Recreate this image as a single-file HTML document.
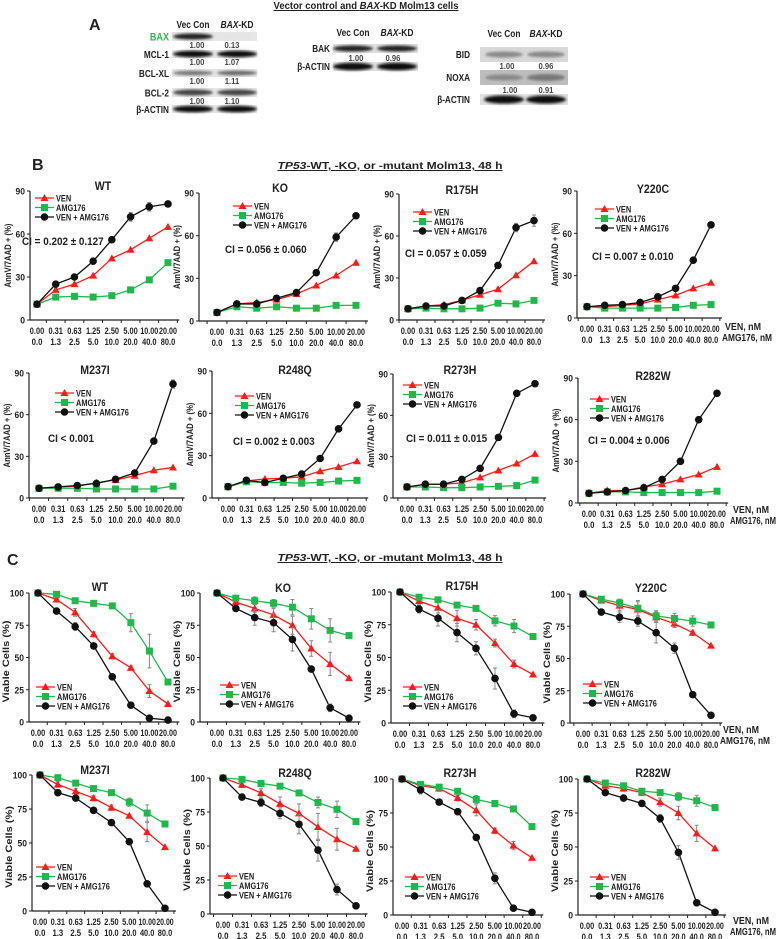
<!DOCTYPE html>
<html><head><meta charset="utf-8"><title>Vector control and BAX-KD Molm13 cells</title>
<style>
html,body{margin:0;padding:0;background:#fff;}
svg{display:block;font-family:"Liberation Sans",Arial,sans-serif;}
text{font-weight:bold;fill:#222;}
</style></head>
<body>
<svg id="fig" width="779" height="939" viewBox="0 0 779 939" xmlns="http://www.w3.org/2000/svg">
<defs><filter id="blur" x="-20%" y="-50%" width="140%" height="200%"><feGaussianBlur stdDeviation="1.2"/></filter></defs>
</svg>
<script>
// ---------- categories & ticks ----------
const venDoses = ["0.00","0.31","0.63","1.25","2.50","5.00","10.00","20.00"];
const amgDoses = ["0.0","1.3","2.5","5.0","10.0","20.0","40.0","80.0"];
const yTicksB = [0,30,60,90];
const yTicksC = [0,25,50,75,100];
const seriesNames = ["VEN","AMG176","VEN + AMG176"];

// ---------- Panel B data (AnnV/7AAD + %) ----------
const bWT_ven = [11,21,25,31,43,49,57,65];
const bWT_amg = [11,16,16.5,16,17,21,28,40];
const bWT_combo = [11,25,30,41,56,72,79,81];
const bKO_ven = [6,12,13,15,19,25,32,41];
const bKO_amg = [6,10,9,10,9,9,11,11];
const bKO_combo = [6,12,12,16,20,34,59,74];
const bR175H_ven = [8,10,11,14,18,22,32,42];
const bR175H_amg = [8,8.5,8,8,8.5,12,11.5,14];
const bR175H_combo = [8,10,10,14,21,39,66,71];
const bY220C_ven = [8,8,9,10,13,16,21,25];
const bY220C_amg = [8,7,7,7,7,7.5,9,9.5];
const bY220C_combo = [8,9,9.5,11,15,21,41,66];
const bM237I_ven = [7,8,8.5,11,13,16,20,22];
const bM237I_amg = [7,7,7,6.5,6.5,6.5,6.5,8.5];
const bM237I_combo = [7,8,9,10.5,13.5,18,41,82];
const bR248Q_ven = [8,12,13.5,14,15,19,22,26];
const bR248Q_amg = [8,11.5,11,11,10.5,11,12,12.5];
const bR248Q_combo = [8,12.5,11,14,17,28,49,66];
const bR273H_ven = [8,10,10,11,15,20,25,32];
const bR273H_amg = [8,8,7.5,7.5,8,8.5,9,13];
const bR273H_combo = [8,10,10,13.5,21.5,44,76,83];
const bR282W_ven = [7,9,9,11.5,13.5,17,20.5,26];
const bR282W_amg = [7,8,8,7.5,7.5,7.5,7.5,8.5];
const bR282W_combo = [7,8,9,11,17,30,60,79];

// ---------- Panel C data (Viable cells %) ----------
const cWT_ven = [100,95,85,68,51,42,24,14];
const cWT_amg = [100,99,94,92,90,77,55,31];
const cWT_combo = [100,86,74,59,35,13,3,1.5];
const cKO_ven = [100,93,88,83,75,57,45,34];
const cKO_amg = [100,96,94,92,89,80,71,67];
const cKO_combo = [100,88,81,77,64,41,11,3];
const cR175H_ven = [100,93,88,80,75,61,45,37];
const cR175H_amg = [100,96,94,90,87.5,78,74,66];
const cR175H_combo = [100,87,80,69,57,34,7,4];
const cY220C_ven = [100,95,91,88,82,77,70,60];
const cY220C_amg = [100,96,93,89,83,81,79,76];
const cY220C_combo = [100,86,82,79,70,58,22,6];
const cM237I_ven = [100,93,88,83,76,70,58,47];
const cM237I_amg = [100,98,94,90,87,80,72,64];
const cM237I_combo = [100,87,83,74,65,51,20,2];
const cR248Q_ven = [100,95,89,81,74,64,55,48];
const cR248Q_amg = [100,99,96,94,89,82,77,68];
const cR248Q_combo = [100,86,82,74,66,47,18,6];
const cR273H_ven = [100,95,93,86,77,62,51,42];
const cR273H_amg = [100,96,94,91,85,82,78,65];
const cR273H_combo = [100,92,83,76,57,27,5,2];
const cR282W_ven = [100,95,93,90,83,75,60,49];
const cR282W_amg = [100,97,95,91,90,87,84,79];
const cR282W_combo = [100,90,86,82,71,46,9,2];

// error bars (C panels)
const cWT_errV=[0,1,3,2,2,1.5,5,0], cWT_errA=[0,1,1,1,1,7,13,0], cWT_errC=[0,1,3,1,0,0,0,0];
const cKO_errV=[0,2,3,5,7,6,9,0], cKO_errA=[0,2,3,3,6,8,9,0], cKO_errC=[0,2,6,7,9,0,3,0];
const cR175H_errV=[0,2,4,6,4,3,3,0], cR175H_errA=[0,1,1,1,1,4,5,0], cR175H_errC=[0,3,6,7,5,8,3,0];
const cY220C_errV=[0,2,4,6,4,3,2,0], cY220C_errA=[0,1,3,6,4,4,4,0], cY220C_errC=[0,2,4,4,8,4,2,0];
const cM237I_errV=[0,2,2,2,2,1,7,0], cM237I_errA=[0,1,1,1,2,3,6,0], cM237I_errC=[0,2,1,2,1,1,1,0];
const cR248Q_errV=[0,2,3,5,7,10,8,0], cR248Q_errA=[0,1,2,2,1,4,6,0], cR248Q_errC=[0,2,3,4,7,8,4,0];
const cR273H_errV=[0,1,2,2,4,2,3,0], cR273H_errA=[0,1,1,2,3,2,1,0], cR273H_errC=[0,3,2,1,2,4,0,0];
const cR282W_errV=[0,1,2,2,3,5,6,0], cR282W_errA=[0,1,1,2,2,3,4,0], cR282W_errC=[0,1,1,1,3,5,1,0];
const bErr = {bWT:[0,1,1,1,2,3,3,1], bKO:[0,1,1,1,1,1,3,1], bR175H:[0,1,1,1,1,2,3,4], bY220C:[0,0,0,0,1,1,2,1], bM237I:[0,0,0,0,0,1,1,3], bR248Q:[0,0,0,1,1,1,2,1], bR273H:[0,0,0,0,1,1,2,1], bR282W:[0,0,0,0,1,1,1,1]};

const NS="http://www.w3.org/2000/svg";
const svg=document.getElementById('fig');
function mk(tag,attrs,parent){const e=document.createElementNS(NS,tag);for(const k in attrs)e.setAttribute(k,attrs[k]);(parent||svg).appendChild(e);return e;}
function txt(s,x,y,size,anchor,parent,extra){const t=mk('text',Object.assign({x:x,y:y,'font-size':size,'text-anchor':anchor||'start'},extra||{}),parent);t.textContent=s;return t;}
function cond(t,f){const L=t.getComputedTextLength();if(L>0){t.setAttribute('textLength',(L*f).toFixed(1));t.setAttribute('lengthAdjust','spacingAndGlyphs');}return t;}
function fixLen(t,w){t.setAttribute('textLength',w);t.setAttribute('lengthAdjust','spacingAndGlyphs');return t;}

const RED="#ff1a1a", GREEN="#1fb84a", BLACK="#111";

const layoutB=[
 {k:'bWT',t:'WT',ax:30,top:191,bot:320,x0:37,x1:168,tx:103,ty:185,lx:35,ly:198,ci:'CI = 0.202 ± 0.127',cix:22,ciy:245},
 {k:'bKO',t:'KO',ax:199,top:193,bot:321,x0:217,x1:356,tx:280,ty:187,lx:233,ly:206,ci:'CI = 0.056 ± 0.060',cix:225,ciy:253},
 {k:'bR175H',t:'R175H',ax:399,top:194,bot:320,x0:408,x1:534,tx:462,ty:189,lx:413,ly:212,ci:'CI = 0.057 ± 0.059',cix:405,ciy:257},
 {k:'bY220C',t:'Y220C',ax:577,top:191,bot:318,x0:587,x1:711,tx:653,ty:188,lx:595,ly:209,ci:'CI = 0.007 ± 0.010',cix:592,ciy:260},
 {k:'bM237I',t:'M237I',ax:29,top:373,bot:498,x0:39,x1:173,tx:95,ty:369,lx:55,ly:393,ci:'CI < 0.001',cix:48,ciy:442},
 {k:'bR248Q',t:'R248Q',ax:212,top:371,bot:498,x0:228,x1:357,tx:295,ty:369,lx:235,ly:396,ci:'CI = 0.002 ± 0.003',cix:233,ciy:445},
 {k:'bR273H',t:'R273H',ax:393,top:374,bot:498,x0:407,x1:535,tx:460,ty:369,lx:403,ly:385,ci:'CI = 0.011 ± 0.015',cix:406,ciy:442},
 {k:'bR282W',t:'R282W',ax:578,top:378,bot:503,x0:589,x1:717,tx:653,ty:375,lx:590,ly:399,ci:'CI = 0.004 ± 0.006',cix:588,ciy:444}
];
const layoutC=[
 {k:'cWT',t:'WT',ax:29,top:593,bot:722,x0:38,x1:168,tx:100,ty:586,lx:36,ly:687},
 {k:'cKO',t:'KO',ax:200,top:593,bot:722,x0:217,x1:349,tx:283,ty:587,lx:220,ly:685},
 {k:'cR175H',t:'R175H',ax:391,top:592,bot:723,x0:400,x1:533,tx:462,ty:585,lx:403,ly:687},
 {k:'cY220C',t:'Y220C',ax:570,top:594,bot:723,x0:583,x1:711,tx:651,ty:587,lx:583,ly:684},
 {k:'cM237I',t:'M237I',ax:32,top:775,bot:911,x0:40,x1:165,tx:95,ty:769,lx:36,ly:867},
 {k:'cR248Q',t:'R248Q',ax:210,top:778,bot:914,x0:223,x1:356,tx:295,ty:772,lx:218,ly:876},
 {k:'cR273H',t:'R273H',ax:393,top:779,bot:915,x0:402,x1:532,tx:460,ty:772,lx:405,ly:877},
 {k:'cR282W',t:'R282W',ax:578,top:779,bot:915,x0:587,x1:715,tx:653,ty:772,lx:590,ly:877}
];
const dataMap={
 bWT:[bWT_ven,bWT_amg,bWT_combo],bKO:[bKO_ven,bKO_amg,bKO_combo],bR175H:[bR175H_ven,bR175H_amg,bR175H_combo],bY220C:[bY220C_ven,bY220C_amg,bY220C_combo],
 bM237I:[bM237I_ven,bM237I_amg,bM237I_combo],bR248Q:[bR248Q_ven,bR248Q_amg,bR248Q_combo],bR273H:[bR273H_ven,bR273H_amg,bR273H_combo],bR282W:[bR282W_ven,bR282W_amg,bR282W_combo],
 cWT:[cWT_ven,cWT_amg,cWT_combo],cKO:[cKO_ven,cKO_amg,cKO_combo],cR175H:[cR175H_ven,cR175H_amg,cR175H_combo],cY220C:[cY220C_ven,cY220C_amg,cY220C_combo],
 cM237I:[cM237I_ven,cM237I_amg,cM237I_combo],cR248Q:[cR248Q_ven,cR248Q_amg,cR248Q_combo],cR273H:[cR273H_ven,cR273H_amg,cR273H_combo],cR282W:[cR282W_ven,cR282W_amg,cR282W_combo]
};
const errMap={
 cWT:[cWT_errV,cWT_errA,cWT_errC],cKO:[cKO_errV,cKO_errA,cKO_errC],cR175H:[cR175H_errV,cR175H_errA,cR175H_errC],cY220C:[cY220C_errV,cY220C_errA,cY220C_errC],
 cM237I:[cM237I_errV,cM237I_errA,cM237I_errC],cR248Q:[cR248Q_errV,cR248Q_errA,cR248Q_errC],cR273H:[cR273H_errV,cR273H_errA,cR273H_errC],cR282W:[cR282W_errV,cR282W_errA,cR282W_errC]
};

function marker(kind,x,y,g){
  let m;
  if(kind===0){m=mk('polygon',{points:`${x},${y-4} ${x-4},${y+3} ${x+4},${y+3}`,fill:RED},g);}
  else if(kind===1){m=mk('rect',{x:x-3.5,y:y-3.5,width:7,height:7,fill:GREEN},g);}
  else {m=mk('circle',{cx:x,cy:y,r:3.8,fill:BLACK},g);}
  return m;
}
const colors=[RED,GREEN,BLACK];

function drawPanel(L,isB){
  const g=mk('g',{});
  
  
  const yMax=isB?90:100, ticks=isB?yTicksB:yTicksC;
  const yS=v=>L.bot-(v/yMax)*(L.bot-L.top);
  const step=(L.x1-L.x0)/7;
  const xS=i=>L.x0+i*step;
  const tt=txt(L.t,L.tx,L.ty+5,12,'middle',g);
  cond(tt,0.88);
  
  
  const xEnd=L.x1+step/2+2;
  const ya=mk('line',{x1:L.ax,y1:L.top,x2:L.ax,y2:L.bot,stroke:'#222','stroke-width':1.2},g);
  
  
  const xa=mk('line',{x1:L.ax,y1:L.bot,x2:xEnd,y2:L.bot,stroke:'#222','stroke-width':1.2},g);
  
  
  ticks.forEach(v=>{
    const y=yS(v);
    mk('line',{x1:L.ax-3,y1:y,x2:L.ax,y2:y,stroke:'#222','stroke-width':1},g);
    const tl=txt(String(v),L.ax-5,y+3.5,9.5,'end',g);
    cond(tl,0.9);
    
    
  });
  for(let i=0;i<=8;i++){
    const x=L.x0+(i-0.5)*step; if(x<L.ax) continue;
    mk('line',{x1:x,y1:L.bot,x2:x,y2:L.bot+3,stroke:'#222','stroke-width':1},g);
  }
  venDoses.forEach((s,i)=>{
    const t=txt(s,xS(i),L.bot+14,9,'middle',g,{textLength:Math.min(s.length*3.6,step-0.5),lengthAdjust:'spacingAndGlyphs'});
    
    
  });
  amgDoses.forEach((s,i)=>{
    const t=txt(s,xS(i),L.bot+25,9,'middle',g,{textLength:s.length*3.6,lengthAdjust:'spacingAndGlyphs'});
    
    
  });
  const cy=(L.top+L.bot)/2+ (isB?0:4), cx=L.ax-(isB?19:20);
  const yt=txt(isB?'AnnV/7AAD + (%)':'Viable Cells  (%)',cx,cy,9.5,'middle',g,{transform:`rotate(-90 ${cx} ${cy})`});
  fixLen(yt,isB?64:82);
  
  
  const ds=dataMap[L.k];
  const es=errMap[L.k];
  ds.forEach((arr,si)=>{
    const sg=mk('g',{},g);
    
    
    const pts=arr.map((v,i)=>`${xS(i)},${yS(v)}`).join(' ');
    mk('polyline',{points:pts,fill:'none',stroke:colors[si],'stroke-width':1.3},sg);
    arr.forEach((v,i)=>{
      let e=es?es[si][i]:(si===2?bErr[L.k][i]:0);
      if(e>0){
        const x=xS(i);
        mk('path',{d:`M${x},${yS(v+e)}V${yS(v-e)}M${x-2},${yS(v+e)}H${x+2}M${x-2},${yS(v-e)}H${x+2}`,stroke:'#888','stroke-width':1,fill:'none'},sg);
      }
      const m=marker(si,xS(i),yS(v),sg);
      
      
    });
  });
  const lg=mk('g',{},g);
  
  
  seriesNames.forEach((n,si)=>{
    const y=L.ly+si*9.5;
    const eg=mk('g',{},lg);
    
    
    mk('line',{x1:L.lx,y1:y,x2:L.lx+19,y2:y,stroke:colors[si],'stroke-width':1.3},eg);
    marker(si,L.lx+9.5,y,eg);
    const lt=txt(n,L.lx+21,y+3.3,9,'start',eg);
    cond(lt,0.82);
  });
  if(L.ci){
    const c=txt(L.ci,L.cix,L.ciy,11,'start',g);
    cond(c,0.9);
    
    
  }
}
layoutB.forEach(L=>drawPanel(L,true));
layoutC.forEach(L=>drawPanel(L,false));

[[725,330],[733,513],[723,733],[733,924]].forEach(p=>{
  const a=txt('VEN, nM',p[0],p[1],10,'start');
  fixLen(a,36);
  
  
  const b=txt('AMG176, nM',p[0]-3,p[1]+11,10,'start');
  fixLen(b,Math.min(50,776-(p[0]-3)));
  
  
});

function heading(italic,s2,x,y,w,name){
  const t=mk('text',{x:x,y:y,'font-size':10,'text-anchor':'middle','text-decoration':'underline'});
  
  
  const a=mk('tspan',{'font-style':'italic'},t);a.textContent=italic;
  const b=mk('tspan',{},t);b.textContent=s2;
  fixLen(t,w);
  return t;
}
(function(){
  const t=mk('text',{x:366,y:9,'font-size':10,'text-anchor':'middle','text-decoration':'underline'});
  
  
  const a=mk('tspan',{},t);a.textContent='Vector control and ';
  const b=mk('tspan',{'font-style':'italic'},t);b.textContent='BAX';
  const c=mk('tspan',{},t);c.textContent='-KD Molm13 cells';
  fixLen(t,185);
})();
heading('TP53','-WT, -KO, or -mutant Molm13, 48 h',390,169,225,'panel-b-heading');
heading('TP53','-WT, -KO, or -mutant Molm13, 48 h',390,561,225,'panel-c-heading');
[['A',89,30],['B',32,170],['C',7,565]].forEach(p=>{
  const t=txt(p[0],p[1],p[2],16,'start');
  
  
});

// ---------- Panel A western blots ----------
function blot(x,y,w,h,bg,bands,g){
  mk('rect',{x:x,y:y,width:w,height:h,fill:bg},g);
  bands.forEach(b=>{
    mk('ellipse',{cx:x+b[0],cy:y+h/2,rx:b[1],ry:b[2],fill:b[3],filter:'url(#blur)'},g);
  });
}
function label(s,x,y,anchor,g,color,size,c){const t=txt(s,x,y,size||10,anchor,g);if(color)t.setAttribute('style','fill:'+color);if(c)cond(t,c);return t;}
function hdr(x1,x2,y,g){
  const v=label('Vec Con',x1,y,'middle',g,null,10);fixLen(v,33);
  const t=mk('text',{x:x2,y:y,'font-size':10,'text-anchor':'middle'},g);
  const a=mk('tspan',{'font-style':'italic'},t);a.textContent='BAX';
  const b=mk('tspan',{},t);b.textContent='-KD';
  fixLen(t,33);
}
(function(){
  const g=mk('g',{});
  
  
  hdr(193,237,28,g);
  const X=172,W=85;
  const rows=[['BAX',32,9,[[21,20,3,'#222'],[65,16,2,'#e4e4e4']],'#2fb84a','1.00','0.13'],
    ['MCL-1',50,8,[[21,20,3.2,'#111'],[65,20,3.2,'#111']],null,'1.00','1.07'],
    ['BCL-XL',69,8,[[21,20,2.3,'#777'],[65,20,2.3,'#666']],null,'1.00','1.11'],
    ['BCL-2',88,9,[[21,20,3,'#444'],[65,20,3,'#444']],null,'1.00','1.10'],
    ['β-ACTIN',105,8,[[21,20,3.3,'#111'],[65,20,3.3,'#111']],null,null,null]];
  rows.forEach(r=>{
    blot(X,r[1],W,r[2],'#e6e6e6',r[3],g);
    label(r[0],169,r[1]+r[2]/2+4,'end',g,r[4],r[0]==='BAX'?11:10,0.82);
    if(r[5]){label(r[5],197,r[1]+r[2]+7,'middle',g,'#444',8.5,0.9);label(r[6],232,r[1]+r[2]+7,'middle',g,'#444',8.5,0.9);}
  });
})();
(function(){
  const g=mk('g',{});
  
  
  hdr(353,397,36,g);
  blot(333,44,85,9,'#e0e0e0',[[20,20,3,'#222'],[64,20,3,'#222']],g);
  label('BAK',330,52,'end',g,null,10,0.82);
  label('1.00',356,61,'middle',g,'#444',8.5,0.9);label('0.96',393,61,'middle',g,'#444',8.5,0.9);
  blot(333,62,85,9,'#e0e0e0',[[20,20,3.8,'#111'],[64,20,3.8,'#111']],g);
  label('β-ACTIN',330,70,'end',g,null,10,0.82);
})();
(function(){
  const g=mk('g',{});
  
  
  hdr(504,546,37,g);
  blot(480,47,88,15,'#d8d8d8',[[24,19,3,'#888'],[66,19,3,'#888']],g);
  label('BID',470,58,'end',g,null,10,0.82);
  label('1.00',507,69,'middle',g,'#444',8.5,0.9);label('0.96',546,69,'middle',g,'#444',8.5,0.9);
  blot(480,70,88,15,'#bdbdbd',[[24,19,3,'#888'],[66,19,3.5,'#777']],g);
  label('NOXA',470,81,'end',g,null,10,0.82);
  label('1.00',510,93,'middle',g,'#444',8.5,0.9);label('0.91',546,93,'middle',g,'#444',8.5,0.9);
  blot(480,94,88,11,'#e0e0e0',[[24,20,4,'#111'],[66,20,4,'#111']],g);
  label('β-ACTIN',470,103,'end',g,null,10,0.82);
})();
</script>
</body></html>
